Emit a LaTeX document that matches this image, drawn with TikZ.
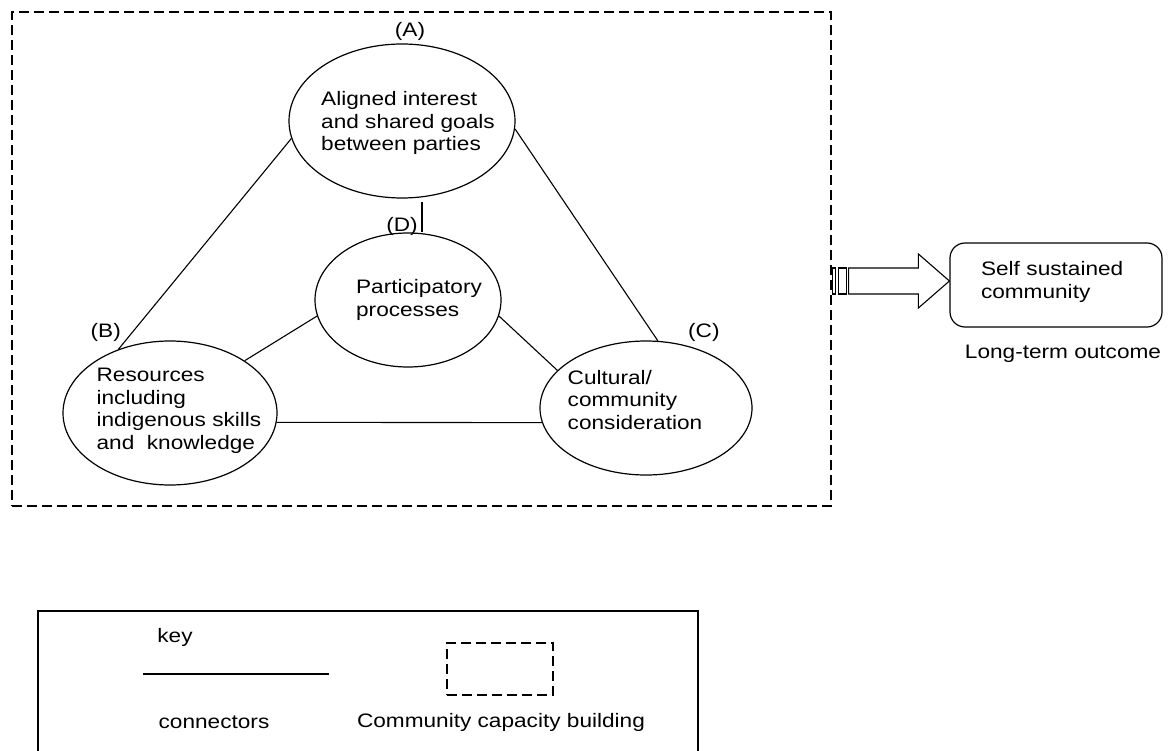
\documentclass[tikz,border=0pt]{standalone}
\usepackage{fontspec}
\setmainfont{Liberation Sans}[FakeStretch=1.16]
\usetikzlibrary{shapes.geometric,positioning,calc}

\begin{document}
\begin{tikzpicture}[x=1pt,y=-1pt,
  bubble/.style={draw,ellipse,line width=1.2pt,inner sep=0pt},
  txt/.style={align=left,inner sep=0pt,font=\fontsize{19.5pt}{22.5pt}\selectfont},
  tag/.style={inner sep=0pt,font=\fontsize{19.5pt}{22.5pt}\selectfont},
  link/.style={line width=1.1pt},
  frame/.style={draw,dash pattern=on 10pt off 5pt,line width=1.2pt,inner sep=0pt},
  node distance=0.6cm
]
\useasboundingbox (0,0) rectangle (1175,751);
\clip (0,0) rectangle (1175,751);

\node[frame,minimum width=819pt,minimum height=494pt] (cap) at (421.5,259) {};

\node[bubble,minimum width=226pt,minimum height=154pt] (goals) at (402,121) {};
\node[bubble,minimum width=186pt,minimum height=134pt] (part) at (408,300) {};
\node[bubble,minimum width=214pt,minimum height=144pt] (res) at (170,413) {};
\node[bubble,minimum width=212pt,minimum height=134pt] (cult) at (646,408) {};

\node[txt,xshift=6pt,yshift=-2pt] at (goals) {Aligned interest\\and shared goals\\between parties};
\node[txt,xshift=11pt] at (part) {Participatory\\processes};
\node[txt,xshift=9pt,yshift=2pt] at (res) {Resources\\including\\indigenous skills\\and\ \ knowledge};
\node[txt,xshift=-11pt,yshift=8pt] at (cult) {Cultural/\\community\\consideration};

\node[tag,above=3pt of goals,xshift=8pt] (la) {(A)};
\node[tag,above=-3pt of part.north,xshift=-6pt] (ld) {(D)};
\node[tag,left=49pt of res.north,yshift=8pt] (lb) {(B)};
\node[tag,right=42pt of cult.north,yshift=8pt] (lc) {(C)};

\draw[link] (goals.189) -- (res.129);
\draw[link] (goals.-4) -- (cult.80);
\draw[link] ([xshift=20pt,yshift=-3pt]goals.south) -- ([xshift=14pt]part.north);
\draw[link] (res.35) -- (part.190);
\draw[link] (part.-10) -- (cult.157);
\draw[link] (res.-5) -- (cult.188);

\node[draw,rounded corners=15pt,line width=1.2pt,minimum width=212pt,minimum height=84pt,
  text width=150pt,align=left,text depth=33pt,font=\fontsize{19.5pt}{22.5pt}\selectfont] (out) at (1056,285) {Self sustained\\community};
\node[tag,below=17pt of out,xshift=7pt] (lt) {Long-term outcome};

\coordinate (tip) at ([yshift=4pt]out.west);
\coordinate (base) at (cap.east |- tip);
\draw[link] ($(base)+(1,-13)$) rectangle ($(base)+(4,13)$);
\draw[link] ($(base)+(7,-13)$) rectangle ($(base)+(15,13)$);
\draw[link] ($(base)+(17,-13)$) -- ($(tip)+(-31,-13)$) -- ($(tip)+(-31,-27)$) -- (tip)
  -- ($(tip)+(-31,27)$) -- ($(tip)+(-31,13)$) -- ($(base)+(17,13)$) -- cycle;

\draw[line width=1.2pt] (38,611) rectangle (698,760);
\node[tag] (key) at (175,637) {key};
\coordinate (ca) at (143,674);
\coordinate (cb) at (329,674);
\draw[link] (ca) -- (cb);
\node[tag] (lconn) at (214,722) {connectors};
\node[frame,minimum width=106pt,minimum height=52pt] (sample) at (500,669) {};
\node[tag] (lcap) at (501,722) {Community capacity building};
\end{tikzpicture}
\end{document}
